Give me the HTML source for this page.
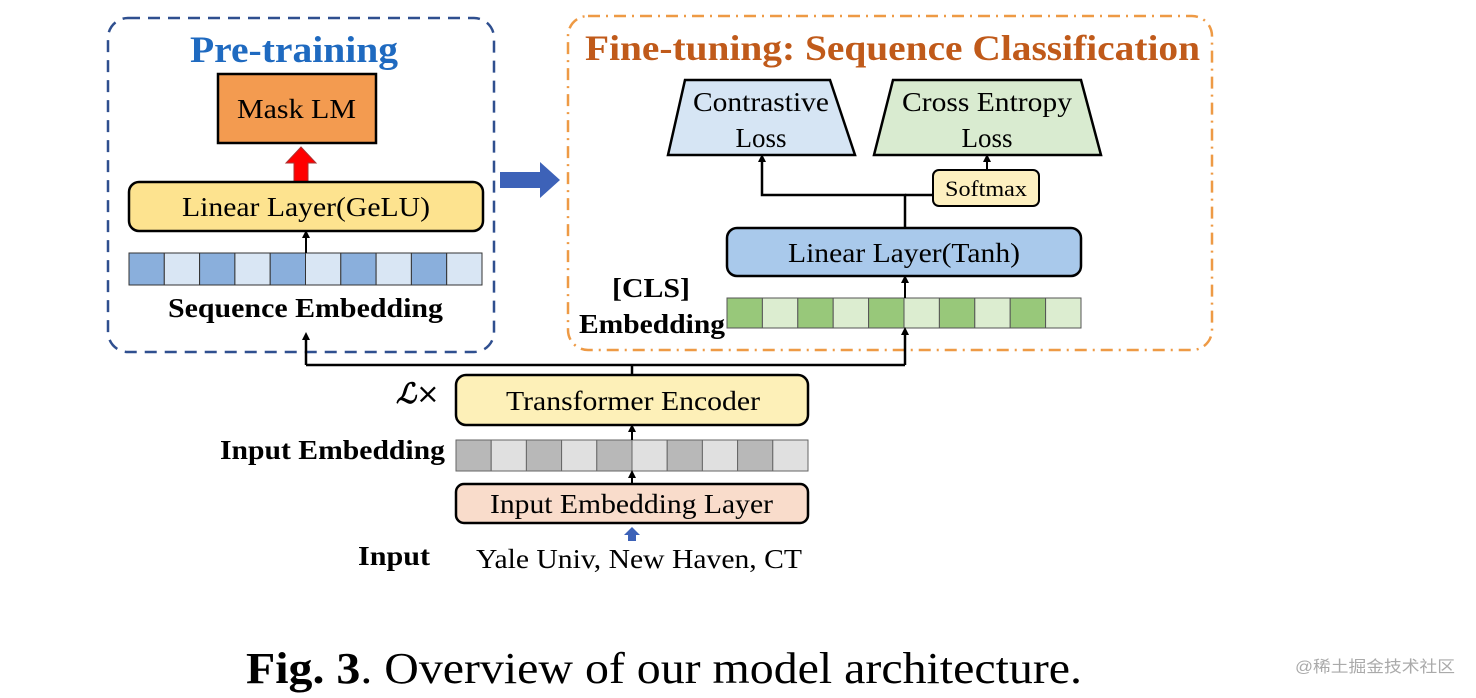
<!DOCTYPE html>
<html><head><meta charset="utf-8"><style>
html,body{margin:0;padding:0;background:#fff;width:1476px;height:698px;overflow:hidden}
svg text{font-family:"Liberation Serif",serif}
</style></head><body>
<svg width="1476" height="698" viewBox="0 0 1476 698" xmlns="http://www.w3.org/2000/svg">
<defs>
<marker id="ah" markerWidth="8" markerHeight="8" refX="4" refY="4" orient="auto" markerUnits="userSpaceOnUse">
<path d="M0,0 L8,4 L0,8 z" fill="#000"/></marker>
</defs>
<rect x="108" y="18" width="386" height="334" rx="20" fill="none" stroke="#2f4f8f" stroke-width="2.5" stroke-dasharray="12,8"/>
<text x="190" y="62" font-size="37" font-weight="bold" fill="#1f6ac0" textLength="208" lengthAdjust="spacingAndGlyphs">Pre-training</text>
<rect x="218" y="74" width="158" height="69" fill="#f39b50" stroke="#000" stroke-width="2.5"/>
<text x="237" y="118" font-size="27" textLength="119" lengthAdjust="spacingAndGlyphs">Mask LM</text>
<path d="M294,182 L294,163 L286,163 L301,147 L316,163 L308,163 L308,182 z" fill="#f00" stroke="#a33" stroke-width="1"/>
<rect x="129" y="182" width="354" height="49" rx="10" fill="#fde38f" stroke="#000" stroke-width="2.5"/>
<text x="182" y="216" font-size="27" textLength="248" lengthAdjust="spacingAndGlyphs">Linear Layer(GeLU)</text>
<g stroke="#333" stroke-width="1">
<rect x="129" y="253" width="35.3" height="32" fill="#8aafdc"/><rect x="164.3" y="253" width="35.3" height="32" fill="#d9e6f4"/>
<rect x="199.6" y="253" width="35.3" height="32" fill="#8aafdc"/><rect x="234.9" y="253" width="35.3" height="32" fill="#d9e6f4"/>
<rect x="270.2" y="253" width="35.3" height="32" fill="#8aafdc"/><rect x="305.5" y="253" width="35.3" height="32" fill="#d9e6f4"/>
<rect x="340.8" y="253" width="35.3" height="32" fill="#8aafdc"/><rect x="376.1" y="253" width="35.3" height="32" fill="#d9e6f4"/>
<rect x="411.4" y="253" width="35.3" height="32" fill="#8aafdc"/><rect x="446.7" y="253" width="35.3" height="32" fill="#d9e6f4"/>
</g>
<line x1="306" y1="253" x2="306" y2="234" stroke="#000" stroke-width="2" marker-end="url(#ah)"/>
<text x="168" y="317" font-size="27" font-weight="bold" textLength="275" lengthAdjust="spacingAndGlyphs">Sequence Embedding</text>
<path d="M500,172 L540,172 L540,162 L560,180 L540,198 L540,188 L500,188 z" fill="#3d62b8"/>
<rect x="568" y="16" width="644" height="334" rx="20" fill="none" stroke="#ee9a45" stroke-width="2.5" stroke-dasharray="12,6,2,6"/>
<text x="585" y="60" font-size="36" font-weight="bold" fill="#c05a1a" textLength="615" lengthAdjust="spacingAndGlyphs">Fine-tuning: Sequence Classification</text>
<path d="M685,80 L830,80 L855,155 L668,155 z" fill="#d6e5f4" stroke="#000" stroke-width="2.5"/>
<text x="693" y="111" font-size="27" textLength="136" lengthAdjust="spacingAndGlyphs">Contrastive</text>
<text x="761" y="147" text-anchor="middle" font-size="27">Loss</text>
<path d="M893,80 L1081,80 L1101,155 L874,155 z" fill="#d9ebd0" stroke="#000" stroke-width="2.5"/>
<text x="902" y="111" font-size="27" textLength="170" lengthAdjust="spacingAndGlyphs">Cross Entropy</text>
<text x="987" y="147" text-anchor="middle" font-size="27">Loss</text>
<rect x="933" y="170" width="106" height="36" rx="6" fill="#fdf0c0" stroke="#000" stroke-width="2"/>
<text x="945" y="196" font-size="22" textLength="82" lengthAdjust="spacingAndGlyphs">Softmax</text>
<line x1="987" y1="170" x2="987" y2="158" stroke="#000" stroke-width="2" marker-end="url(#ah)"/>
<polyline points="905,228 905,195 762,195 762,158" fill="none" stroke="#000" stroke-width="2.5" marker-end="url(#ah)"/>
<line x1="905" y1="195" x2="933" y2="195" stroke="#000" stroke-width="2.5"/>
<rect x="727" y="228" width="354" height="48" rx="10" fill="#a9c9eb" stroke="#000" stroke-width="2.5"/>
<text x="788" y="262" font-size="27" textLength="232" lengthAdjust="spacingAndGlyphs">Linear Layer(Tanh)</text>
<g stroke="#555" stroke-width="1">
<rect x="727" y="298" width="35.4" height="30" fill="#98c87a"/><rect x="762.4" y="298" width="35.4" height="30" fill="#dcedd0"/>
<rect x="797.8" y="298" width="35.4" height="30" fill="#98c87a"/><rect x="833.2" y="298" width="35.4" height="30" fill="#dcedd0"/>
<rect x="868.6" y="298" width="35.4" height="30" fill="#98c87a"/><rect x="904" y="298" width="35.4" height="30" fill="#dcedd0"/>
<rect x="939.4" y="298" width="35.4" height="30" fill="#98c87a"/><rect x="974.8" y="298" width="35.4" height="30" fill="#dcedd0"/>
<rect x="1010.2" y="298" width="35.4" height="30" fill="#98c87a"/><rect x="1045.6" y="298" width="35.4" height="30" fill="#dcedd0"/>
</g>
<line x1="905" y1="298" x2="905" y2="279" stroke="#000" stroke-width="2" marker-end="url(#ah)"/>
<text x="612" y="297" font-size="27" font-weight="bold" textLength="78" lengthAdjust="spacingAndGlyphs">[CLS]</text>
<text x="579" y="333" font-size="27" font-weight="bold" textLength="146" lengthAdjust="spacingAndGlyphs">Embedding</text>
<polyline points="632,375 632,365" fill="none" stroke="#000" stroke-width="2.5"/>
<polyline points="306,365 905,365" fill="none" stroke="#000" stroke-width="2.5"/>
<line x1="306" y1="365" x2="306" y2="336" stroke="#000" stroke-width="2.5" marker-end="url(#ah)"/>
<line x1="905" y1="365" x2="905" y2="331" stroke="#000" stroke-width="2.5" marker-end="url(#ah)"/>
<rect x="456" y="375" width="352" height="50" rx="10" fill="#fdf0b8" stroke="#000" stroke-width="2.5"/>
<text x="506" y="410" font-size="27" textLength="254" lengthAdjust="spacingAndGlyphs">Transformer Encoder</text>
<text x="396" y="403" font-size="28" font-style="italic" font-weight="bold">ℒ<tspan font-style="normal" font-weight="normal" font-family="DejaVu Sans">×</tspan></text>
<g stroke="#666" stroke-width="1">
<rect x="456" y="440" width="35.2" height="31" fill="#b8b8b8"/><rect x="491.2" y="440" width="35.2" height="31" fill="#e0e0e0"/>
<rect x="526.4" y="440" width="35.2" height="31" fill="#b8b8b8"/><rect x="561.6" y="440" width="35.2" height="31" fill="#e0e0e0"/>
<rect x="596.8" y="440" width="35.2" height="31" fill="#b8b8b8"/><rect x="632" y="440" width="35.2" height="31" fill="#e0e0e0"/>
<rect x="667.2" y="440" width="35.2" height="31" fill="#b8b8b8"/><rect x="702.4" y="440" width="35.2" height="31" fill="#e0e0e0"/>
<rect x="737.6" y="440" width="35.2" height="31" fill="#b8b8b8"/><rect x="772.8" y="440" width="35.2" height="31" fill="#e0e0e0"/>
</g>
<line x1="632" y1="440" x2="632" y2="428" stroke="#000" stroke-width="2" marker-end="url(#ah)"/>
<line x1="632" y1="484" x2="632" y2="474" stroke="#000" stroke-width="2" marker-end="url(#ah)"/>
<text x="220" y="459" font-size="27" font-weight="bold" textLength="225" lengthAdjust="spacingAndGlyphs">Input Embedding</text>
<rect x="456" y="484" width="352" height="39" rx="8" fill="#f9dccb" stroke="#000" stroke-width="2.5"/>
<text x="490" y="513" font-size="27" textLength="283" lengthAdjust="spacingAndGlyphs">Input Embedding Layer</text>
<path d="M628,541 L628,535 L624,535 L632,527 L640,535 L636,535 L636,541 z" fill="#3d62b8"/>
<text x="358" y="565" font-size="27" font-weight="bold" textLength="72" lengthAdjust="spacingAndGlyphs">Input</text>
<text x="476" y="568" font-size="27" textLength="326" lengthAdjust="spacingAndGlyphs">Yale Univ, New Haven, CT</text>
<text x="246" y="683" font-size="44" textLength="836" lengthAdjust="spacingAndGlyphs"><tspan font-weight="bold">Fig. 3</tspan>. Overview of our model architecture.</text>
<text x="1295" y="672" font-size="16" fill="#aaa" textLength="160" lengthAdjust="spacingAndGlyphs" style="font-family:'Liberation Sans','Noto Sans CJK SC',sans-serif">@稀土掘金技术社区</text>
</svg>
</body></html>
